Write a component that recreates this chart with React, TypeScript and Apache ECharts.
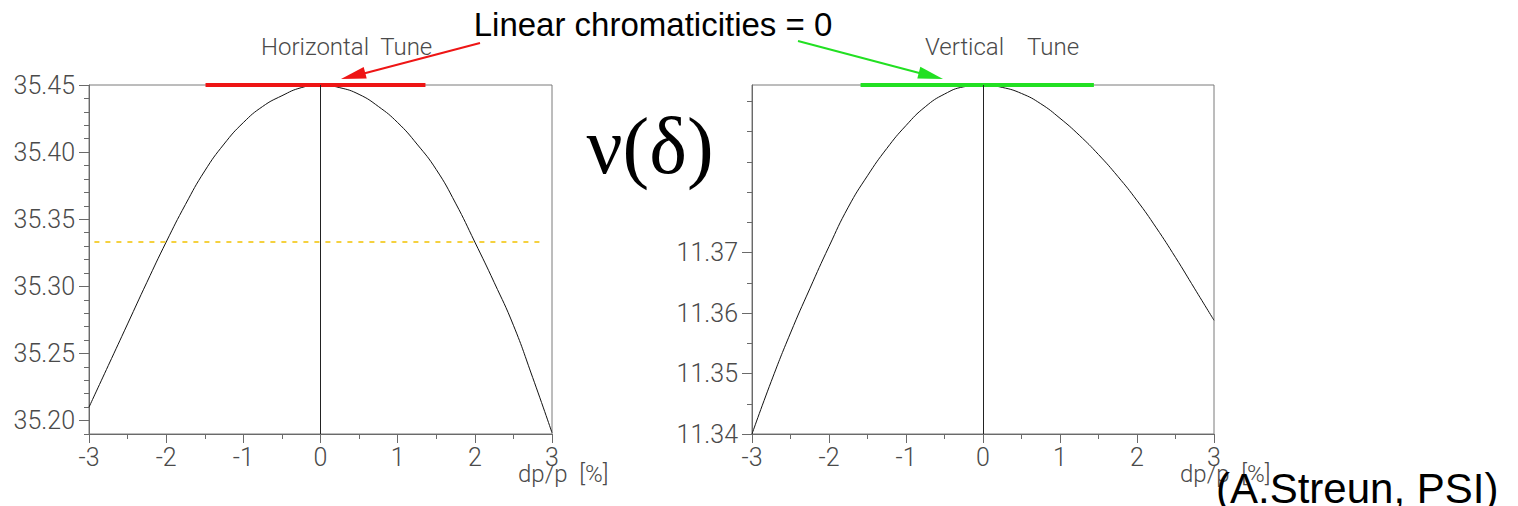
import React, { useEffect, useRef } from "react";
import * as echarts from "echarts";

// Momentum deviation dp/p [%]
const dpp = [
  -3, -2.75, -2.5, -2.25, -2, -1.75, -1.5, -1.25, -1, -0.75, -0.5, -0.25, 0,
  0.25, 0.5, 0.75, 1, 1.25, 1.5, 1.75, 2, 2.25, 2.5, 2.75, 3,
];

// Horizontal tune vs dp/p
const horizontalTune = [
  35.21, 35.241, 35.272, 35.303, 35.333, 35.361, 35.386, 35.406, 35.422, 35.434,
  35.442, 35.448, 35.45, 35.448, 35.443, 35.434, 35.422, 35.406, 35.387, 35.362,
  35.333, 35.303, 35.271, 35.232, 35.191,
];

// Vertical tune vs dp/p
const verticalTune = [
  11.34, 11.3487, 11.3567, 11.364, 11.371, 11.3775, 11.3827, 11.3872, 11.391,
  11.3941, 11.3962, 11.3974, 11.3977, 11.3973, 11.3963, 11.3946, 11.3922,
  11.3894, 11.3862, 11.3826, 11.3786, 11.3741, 11.3692, 11.364, 11.3588,
];

// Third-integer resonance 35 + 1/3 (dashed line in the horizontal plot)
const resonanceTune = 35.333;
const resonanceSpan = [-2.93, 2.88];

// Flat-top markers (zero linear chromaticity)
const horizontalFlatSpan = [-1.49, 1.36];
const verticalFlatSpan = [-1.59, 1.44];

// Axis ranges and ticks
const xTicks = [-3, -2, -1, 0, 1, 2, 3];
const hRange = [35.19, 35.45];
const hMajor = [35.2, 35.25, 35.3, 35.35, 35.4, 35.45];
const hMinor = [
  35.19, 35.21, 35.22, 35.23, 35.24, 35.26, 35.27, 35.28, 35.29, 35.31, 35.32,
  35.33, 35.34, 35.36, 35.37, 35.38, 35.39, 35.41, 35.42, 35.43, 35.44,
];
const vRange = [11.34, 11.3977];
const vMajor = [11.34, 11.35, 11.36, 11.37];
const vMinor = [11.345, 11.355, 11.365, 11.375, 11.38, 11.385, 11.39, 11.395];

const AXIS_GRAY = "#6a6a6a";
const LABEL_FONT = "Roboto";
const LABEL_COLOR = "#4a4a4a";

const pairs = (ys: number[]) => dpp.map((x, i) => [x, ys[i]]);

function xAxisFor(gridIndex: number) {
  return {
    type: "value",
    gridIndex,
    position: "bottom",
    min: -3,
    max: 3,
    interval: 1,
    axisLine: { show: true, onZero: false, lineStyle: { color: AXIS_GRAY, width: 1 } },
    axisTick: { show: true, length: 9, lineStyle: { color: AXIS_GRAY } },
    minorTick: { show: true, splitNumber: 2, length: 5, lineStyle: { color: AXIS_GRAY } },
    splitLine: { show: false },
    axisLabel: {
      customValues: xTicks,
      margin: 11,
      fontFamily: LABEL_FONT,
      fontWeight: 300,
      fontSize: 25,
      color: LABEL_COLOR,
    },
  };
}

function yAxisPair(gridIndex: number, range: number[], major: number[], minor: number[], labels: number[], digits: number) {
  return [
    {
      type: "value",
      gridIndex,
      position: "left",
      min: range[0],
      max: range[1],
      axisLine: { show: true, onZero: false, lineStyle: { color: AXIS_GRAY, width: 1 } },
      axisTick: { show: true, customValues: major, length: 10, lineStyle: { color: AXIS_GRAY } },
      splitLine: { show: false },
      axisLabel: {
        customValues: labels,
        margin: 14,
        fontFamily: LABEL_FONT,
        fontWeight: 300,
        fontSize: 25,
        color: LABEL_COLOR,
        formatter: (v: number) => v.toFixed(digits),
      },
    },
    {
      type: "value",
      gridIndex,
      position: "left",
      offset: 0,
      min: range[0],
      max: range[1],
      axisLine: { show: false, onZero: false },
      axisTick: { show: true, customValues: minor, length: 5, lineStyle: { color: AXIS_GRAY } },
      splitLine: { show: false },
      axisLabel: { show: false },
    },
  ];
}

function arrowHead(tip: number[], from: number[], len: number, half: number) {
  const dx = tip[0] - from[0];
  const dy = tip[1] - from[1];
  const n = Math.hypot(dx, dy);
  const ux = dx / n;
  const uy = dy / n;
  const bx = tip[0] - ux * len;
  const by = tip[1] - uy * len;
  return [
    tip,
    [bx - uy * half, by + ux * half],
    [bx + uy * half, by - ux * half],
  ];
}

const App = () => {
  const ref = useRef<HTMLDivElement>(null);

  useEffect(() => {
    const chart = echarts.init(ref.current!, null, { renderer: "svg" });

    const redFrom = [480, 43];
    const redTip = [341, 79];
    const greenFrom = [798, 41];
    const greenTip = [943, 79];

    const plotText = (text: string, x: number, y: number) => ({
      type: "text",
      x,
      y,
      style: {
        text,
        fill: LABEL_COLOR,
        font: `300 24px ${LABEL_FONT}`,
        textAlign: "left",
        textVerticalAlign: "middle",
      },
    });

    const tuneLine = (xAxisIndex: number, yAxisIndex: number, ys: number[], name: string) => ({
      name,
      type: "line",
      xAxisIndex,
      yAxisIndex,
      data: pairs(ys),
      smooth: true,
      showSymbol: false,
      lineStyle: { color: "#111", width: 1 },
      markLine: {
        silent: true,
        symbol: "none",
        label: { show: false },
        lineStyle: { color: "#222", width: 1, type: "solid" },
        data: [{ xAxis: 0 }],
      },
    });

    chart.setOption({
      animation: false,
      backgroundColor: "#ffffff",
      grid: [
        { left: 89, top: 85, width: 463, height: 349, show: true, borderColor: "#7a7a7a", borderWidth: 1 },
        { left: 752, top: 85, width: 462, height: 349, show: true, borderColor: "#7a7a7a", borderWidth: 1 },
      ],
      xAxis: [xAxisFor(0), xAxisFor(1)],
      yAxis: [
        ...yAxisPair(0, hRange, hMajor, hMinor, hMajor, 2),
        ...yAxisPair(1, vRange, vMajor, vMinor, vMajor, 2),
      ],
      series: [
        tuneLine(0, 0, horizontalTune, "Horizontal Tune"),
        {
          name: "resonance",
          type: "line",
          xAxisIndex: 0,
          yAxisIndex: 0,
          data: resonanceSpan.map((x) => [x, resonanceTune]),
          showSymbol: false,
          lineStyle: { color: "#f2c200", width: 1.5, type: [5, 6] },
        },
        {
          name: "horizontal flat",
          type: "line",
          xAxisIndex: 0,
          yAxisIndex: 0,
          clip: false,
          data: horizontalFlatSpan.map((x) => [x, hRange[1]]),
          showSymbol: false,
          lineStyle: { color: "#ee1515", width: 4 },
        },
        tuneLine(1, 2, verticalTune, "Vertical Tune"),
        {
          name: "vertical flat",
          type: "line",
          xAxisIndex: 1,
          yAxisIndex: 2,
          clip: false,
          data: verticalFlatSpan.map((x) => [x, vRange[1]]),
          showSymbol: false,
          lineStyle: { color: "#22e022", width: 4 },
        },
      ],
      graphic: [
        {
          type: "text",
          x: 653,
          y: 24,
          style: {
            text: "Linear chromaticities = 0",
            fill: "#000",
            font: '33px "Liberation Sans"',
            textAlign: "center",
            textVerticalAlign: "middle",
          },
        },
        plotText("Horizontal  Tune", 261, 47),
        plotText("Vertical    Tune", 925, 47),
        {
          type: "line",
          shape: { x1: redFrom[0], y1: redFrom[1], x2: 360, y2: 74.5 },
          style: { stroke: "#ee1515", lineWidth: 2 },
        },
        {
          type: "polygon",
          shape: { points: arrowHead(redTip, redFrom, 25, 6) },
          style: { fill: "#ee1515" },
        },
        {
          type: "line",
          shape: { x1: greenFrom[0], y1: greenFrom[1], x2: 925, y2: 74.5 },
          style: { stroke: "#22e022", lineWidth: 2 },
        },
        {
          type: "polygon",
          shape: { points: arrowHead(greenTip, greenFrom, 25, 6) },
          style: { fill: "#22e022" },
        },
        {
          type: "text",
          x: 650,
          y: 146,
          style: {
            text: "ν(δ)",
            fill: "#000",
            font: '80px "Liberation Serif"',
            textAlign: "center",
            textVerticalAlign: "middle",
          },
        },
        plotText("dp/p  [%]", 518, 474),
        plotText("dp/p  [%]", 1180, 474),
        {
          type: "text",
          x: 1216,
          y: 488,
          style: {
            text: "(A.Streun, PSI)",
            fill: "#000",
            font: '42px "Liberation Sans"',
            textAlign: "left",
            textVerticalAlign: "middle",
          },
        },
      ],
    });

    return () => chart.dispose();
  }, []);

  return (
    <div
      ref={ref}
      style={{ position: "fixed", left: 0, top: 0, width: 1518, height: 506, background: "#fff" }}
    />
  );
};

export default App;
